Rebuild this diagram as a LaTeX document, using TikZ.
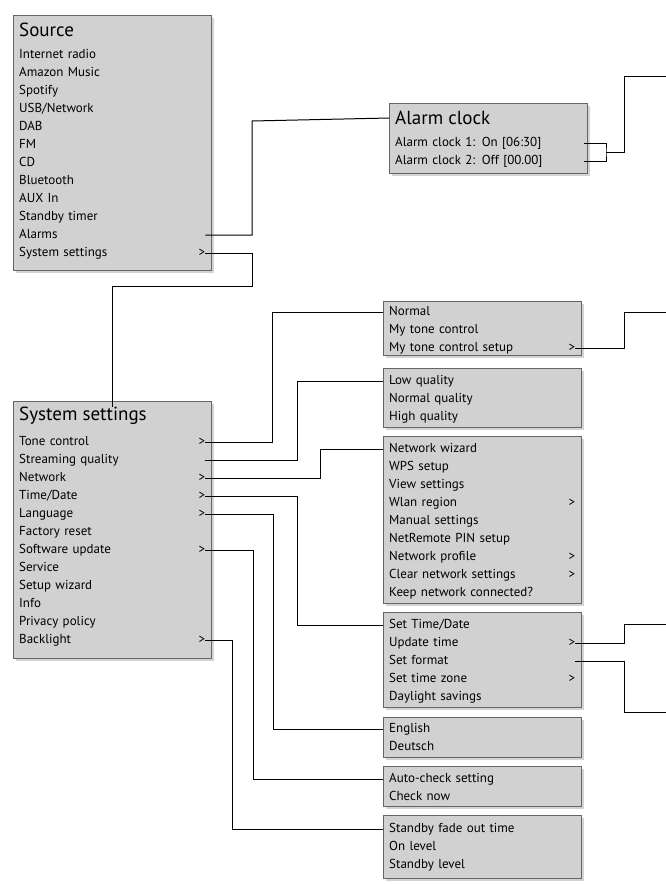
\documentclass[tikz,border=0pt]{standalone}
\usepackage{fontspec}
\setmainfont{PT Sans}
\usetikzlibrary{shadows}
\begin{document}
\begin{tikzpicture}[x=1pt,y=-1pt,
  box/.style={draw=black!60,fill=black!18,line width=0.8pt,drop shadow={shadow xshift=3pt,shadow yshift=-3pt,opacity=0.35}},
  it/.style={anchor=west,inner sep=0pt,text width=186pt,font=\fontsize{13}{14}\selectfont,text height=9pt,text depth=3pt},
  ttl/.style={anchor=west,inner sep=0pt,font=\fontsize{19}{20}\selectfont},
  ln/.style={line width=1pt}]
\useasboundingbox (0,0) rectangle (666,884);
% boxes
\path[box] (13,15) rectangle (211,270);
\path[box] (389,103) rectangle (587,173);
\path[box] (13,401) rectangle (211,658);
\path[box] (383,301) rectangle (581,355);
\path[box] (383,368) rectangle (581,427);
\path[box] (383,436) rectangle (581,603);
\path[box] (383,612) rectangle (581,707);
\path[box] (383,717) rectangle (581,757);
\path[box] (383,766) rectangle (581,806);
\path[box] (383,815) rectangle (581,878);
% Source
\node[ttl] (src) at (19,30) {Source};
\node[it] (s1) at (19,55) {Internet radio};
\node[it] (s2) at (19,73) {Amazon Music};
\node[it] (s3) at (19,91) {Spotify};
\node[it] (s4) at (19,109) {USB/Network};
\node[it] (s5) at (19,127) {DAB};
\node[it] (s6) at (19,145) {FM};
\node[it] (s7) at (19,163) {CD};
\node[it] (s8) at (19,181) {Bluetooth};
\node[it] (s9) at (19,199) {AUX In};
\node[it] (s10) at (19,217) {Standby timer};
\node[it] (alarms) at (19,235) {Alarms};
\node[it] (sys) at (19,253) {System settings\hfill>\hspace{8pt}};
% Alarm clock
\node[ttl] (al) at (395,118) {Alarm clock};
\node[it] (a1) at (395,143) {Alarm clock 1: On [06:30]};
\node[it] (a2) at (395,161) {Alarm clock 2: Off [00.00]};
% System settings
\node[ttl] (ss) at (19,416) {System settings};
\node[it] (tone) at (19,442) {Tone control\hfill>\hspace{8pt}};
\node[it] (stream) at (19,460) {Streaming quality};
\node[it] (net) at (19,478) {Network\hfill>\hspace{8pt}};
\node[it] (time) at (19,496) {Time/Date\hfill>\hspace{8pt}};
\node[it] (lang) at (19,514) {Language\hfill>\hspace{8pt}};
\node[it] (fr) at (19,532) {Factory reset};
\node[it] (sw) at (19,550) {Software update\hfill>\hspace{8pt}};
\node[it] (svc) at (19,568) {Service};
\node[it] (sw2) at (19,586) {Setup wizard};
\node[it] (info) at (19,604) {Info};
\node[it] (priv) at (19,622) {Privacy policy};
\node[it] (back) at (19,640) {Backlight\hfill>\hspace{8pt}};
% right boxes
\node[it] (t1) at (389,312) {Normal};
\node[it] (t2) at (389,330) {My tone control};
\node[it] (t3) at (389,348) {My tone control setup\hfill>\hspace{8pt}};
\node[it] (q1) at (389,381) {Low quality};
\node[it] (q2) at (389,399) {Normal quality};
\node[it] (q3) at (389,417) {High quality};
\node[it] (n1) at (389,449) {Network wizard};
\node[it] (n2) at (389,467) {WPS setup};
\node[it] (n3) at (389,485) {View settings};
\node[it] (n4) at (389,503) {Wlan region\hfill>\hspace{8pt}};
\node[it] (n5) at (389,521) {Manual settings};
\node[it] (n6) at (389,539) {NetRemote PIN setup};
\node[it] (n7) at (389,557) {Network profile\hfill>\hspace{8pt}};
\node[it] (n8) at (389,575) {Clear network settings\hfill>\hspace{8pt}};
\node[it] (n9) at (389,593) {Keep network connected?};
\node[it] (d1) at (389,625) {Set Time/Date};
\node[it] (d2) at (389,643) {Update time\hfill>\hspace{8pt}};
\node[it] (d3) at (389,661) {Set format};
\node[it] (d4) at (389,679) {Set time zone\hfill>\hspace{8pt}};
\node[it] (d5) at (389,697) {Daylight savings};
\node[it] (l1) at (389,729) {English};
\node[it] (l2) at (389,747) {Deutsch};
\node[it] (u1) at (389,779) {Auto-check setting};
\node[it] (u2) at (389,797) {Check now};
\node[it] (b1) at (389,829) {Standby fade out time};
\node[it] (b2) at (389,847) {On level};
\node[it] (b3) at (389,865) {Standby level};
% free ends
\coordinate (e1) at (666,76);
\coordinate (e2) at (666,312);
\coordinate (e3) at (666,624);
\coordinate (e4) at (666,712);
% connectors
\draw[ln] (alarms.east) -| (252,121) -- (al.west -| 389,121);
\draw[ln] (sys.east) -| (252,286) -| (ss.north -| 112,401);
\draw[ln] ([xshift=3pt]a1.east) -| (606,152) |- ([xshift=3pt]a2.east);
\draw[ln] (606,152) -- (624,152) |- (e1);
\draw[ln] (tone.east) -| (272,312) -- (t1.west -| 383,312);
\draw[ln] (stream.east) -| (297,381) -- (q1.west -| 383,381);
\draw[ln] (net.east) -| (320,449) -- (n1.west -| 383,449);
\draw[ln] (time.east) -| (297,625) -- (d1.west -| 383,625);
\draw[ln] (lang.east) -| (273,729) -- (l1.west -| 383,729);
\draw[ln] (sw.east) -| (253,779) -- (u1.west -| 383,779);
\draw[ln] (back.east) -| (232,829) -- (b1.west -| 383,829);
\draw[ln] (t3.east) -| (624,312) -- (e2);
\draw[ln] (d2.east) -| (624,624) -- (e3);
\draw[ln] (d3.east) -| (624,712) -- (e4);
\end{tikzpicture}
\end{document}
